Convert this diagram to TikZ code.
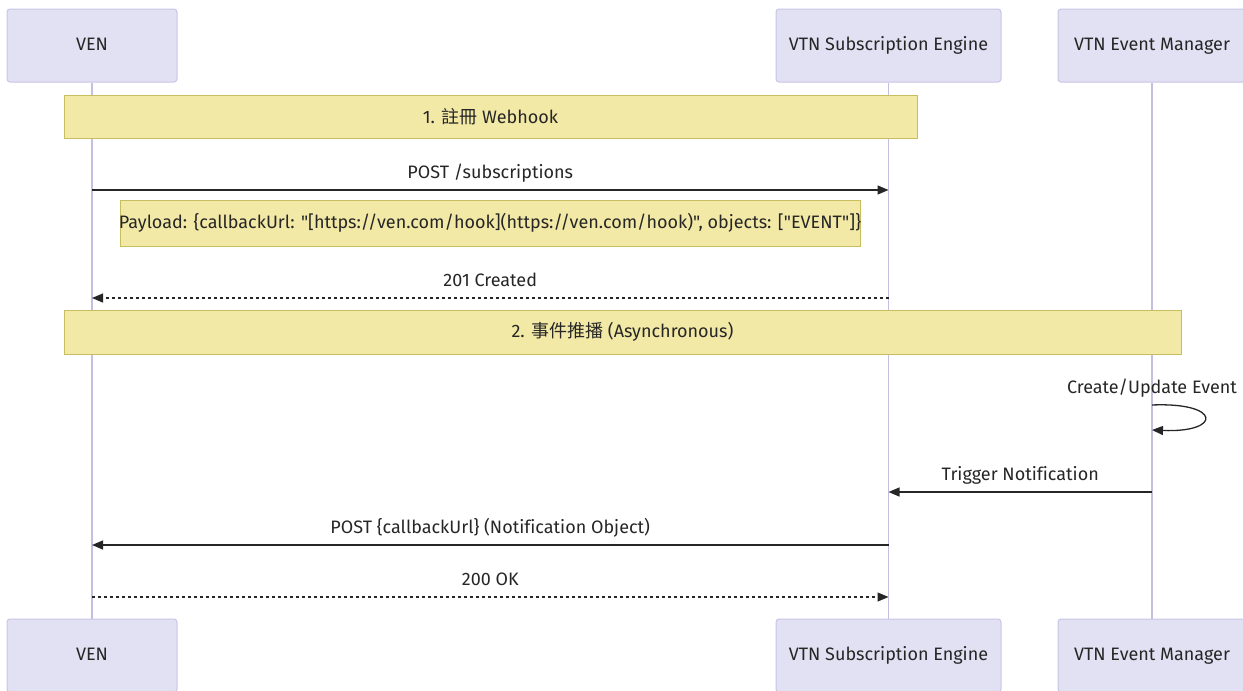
\documentclass[tikz,border=0pt]{standalone}
\usepackage{fontspec}
\setmainfont{Fira Sans}[Ligatures={TeXOff,CommonOff}]
\newfontfamily\cjk{Noto Sans CJK TC}
\usepackage{tikz}
\usetikzlibrary{arrows.meta,positioning,calc}
\definecolor{actorfill}{HTML}{E1E1F3}
\definecolor{actorline}{HTML}{C9C4E6}
\definecolor{lifecolor}{HTML}{C4BEE2}
\definecolor{notefill}{HTML}{F3E9A6}
\definecolor{noteline}{HTML}{C8BE5E}
\definecolor{ink}{HTML}{262626}

\begin{document}
\begin{tikzpicture}[
  x=1pt, y=-1pt,
  >=Triangle,
  every node/.style={font=\fontsize{18}{22}\selectfont, text=ink},
  actorbox/.style={
    rectangle, rounded corners=3pt,
    draw=actorline, line width=1pt, fill=actorfill,
    minimum height=73pt, inner sep=0pt,
    text height=12pt, text depth=2pt
  },
  notebox/.style={
    rectangle, draw=noteline, line width=1pt,
    fill=notefill, inner sep=0pt
  },
  lifeline/.style={draw=lifecolor, line width=1.2pt},
  msgarrow/.style={-{Triangle[length=11pt,width=9pt]}, draw=ink, line width=1.3pt},
  replyarrow/.style={msgarrow, dash pattern=on 3pt off 3pt},
  msglabel/.style={anchor=base, yshift=12pt, inner sep=0pt}
]
\useasboundingbox (0,0) rectangle (1243,691);

% Participants, top and bottom
\node[actorbox, minimum width=170pt] (ven) at (92,45.5) {VEN};
\node[actorbox, minimum width=225pt] (engine) at (888.5,45.5) {VTN Subscription Engine};
\node[actorbox, minimum width=188pt] (manager) at (1152,45.5) {VTN Event Manager};
\node[actorbox, minimum width=170pt] (venB) at (92,655.5) {VEN};
\node[actorbox, minimum width=225pt] (engineB) at (888.5,655.5) {VTN Subscription Engine};
\node[actorbox, minimum width=188pt] (managerB) at (1152,655.5) {VTN Event Manager};

% Lifelines
\draw[lifeline] (ven) -- (venB);
\draw[lifeline] (engine) -- (engineB);
\draw[lifeline] (manager) -- (managerB);

% Notes spanning the lifelines
\node[notebox, minimum width=853pt, minimum height=43pt] (register) at (490.5,116.5) {1. {\cjk 註冊} Webhook};
\node[notebox, minimum width=740pt, minimum height=46pt] (payload) at (490,223) {};
\node[inner sep=0pt] (payloadText) at (payload.center)
  {Payload: \{callbackUrl: "[https://ven.com/hook](https://ven.com/hook)", objects: ["EVENT"]\}};
\node[notebox, minimum width=1117pt, minimum height=44pt] (push) at (622.5,332) {2. {\cjk 事件推播} (Asynchronous)};

% Message rows
\coordinate (rowSub) at (0,190);
\coordinate (rowCreated) at (0,298);
\coordinate (rowLoopA) at (0,405);
\coordinate (rowLoopB) at (0,430);
\coordinate (rowTrigger) at (0,492);
\coordinate (rowNotify) at (0,545);
\coordinate (rowOk) at (0,597);

\draw[msgarrow] (ven |- rowSub) -- (engine |- rowSub)
  node[midway, msglabel] {POST /subscriptions};
\draw[replyarrow] (engine |- rowCreated) -- (ven |- rowCreated)
  node[midway, msglabel] {201 Created};
\draw[msgarrow] (manager |- rowLoopA) .. controls +(70,-3) and +(70,3) .. (manager |- rowLoopB);
\node[msglabel] (selfLabel) at (manager |- rowLoopA) {Create/Update Event};
\draw[msgarrow] (manager |- rowTrigger) -- (engine |- rowTrigger)
  node[midway, msglabel] {Trigger Notification};
\draw[msgarrow] (engine |- rowNotify) -- (ven |- rowNotify)
  node[midway, msglabel] {POST \{callbackUrl\} (Notification Object)};
\draw[replyarrow] (ven |- rowOk) -- (engine |- rowOk)
  node[midway, msglabel] {200 OK};

\end{tikzpicture}
\end{document}
